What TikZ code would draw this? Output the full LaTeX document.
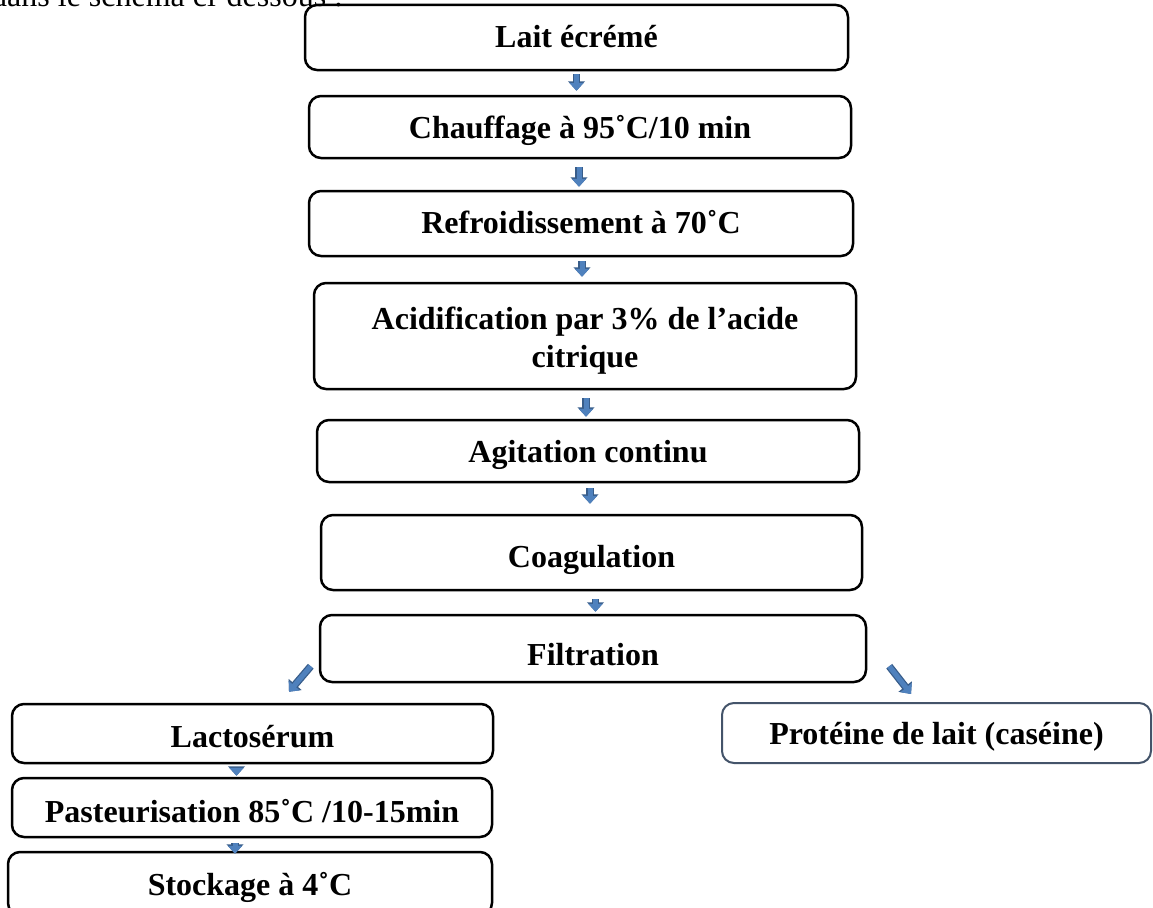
\documentclass[tikz,border=0pt]{standalone}
\usepackage{fontspec}
\setmainfont{Liberation Serif}
\usetikzlibrary{arrows.meta,calc}
\definecolor{arrfill}{HTML}{4F81BD}
\definecolor{arrline}{HTML}{385D8A}
\definecolor{slate}{HTML}{44546A}
\tikzset{
  box/.style={draw=black, line width=2.5pt, rounded corners=12pt, inner sep=0pt,
    font=\fontsize{32}{38}\selectfont\bfseries, align=center},
  tlift/.style={text height=#1, text depth=0pt},
  barrow/.style={draw=arrfill, line width=5pt,
    -{Triangle[length=8pt,width=14pt]},
    preaction={draw=arrline, line width=7.5pt, -{Triangle[length=9.5pt,width=16.5pt]}}},
}
\begin{document}
\begin{tikzpicture}[x=1pt,y=-1pt]
\useasboundingbox (0,0) rectangle (1153,907);
\clip (0,0) rectangle (1153,907);
\fill[white] (0,0) rectangle (1153,907);
\node[anchor=base west, font=\fontsize{32}{35}\selectfont, inner sep=0pt] (intro) at (-9,7) {dans le schéma ci-dessous :};

\node[box, tlift=21pt, minimum width=543pt, minimum height=65pt] (lait) at (576.5,37.5) {Lait écrémé};
\node[box, tlift=23pt, minimum width=542pt, minimum height=62pt] (chauf) at (580,127) {Chauffage à 95˚C/10 min};
\node[box, tlift=19pt, minimum width=544pt, minimum height=65pt] (refr) at (581,223.5) {Refroidissement à 70˚C};
\node[box, minimum width=542pt, minimum height=106pt] (acid) at (585,336) {\rule{0pt}{31pt}Acidification par 3\% de l’acide\\citrique};
\node[box, tlift=23pt, minimum width=542pt, minimum height=62pt] (agit) at (588,451) {Agitation continu};
\node[box, tlift=30pt, minimum width=541pt, minimum height=75pt] (coag) at (591.5,552.5) {Coagulation};
\node[box, tlift=34pt, minimum width=546pt, minimum height=67pt] (filt) at (593,648.5) {Filtration};
\node[box, tlift=28pt, minimum width=481pt, minimum height=59pt] (lacto) at (252.5,733.5) {Lactosérum};
\node[box, tlift=30pt, minimum width=480pt, minimum height=59pt] (past) at (252,807.5) {Pasteurisation 85˚C /10-15min};
\node[box, tlift=24pt, minimum width=484pt, minimum height=63pt] (stock) at (250,883.5) {Stockage à 4˚C};
\node[box, tlift=23pt, draw=slate, line width=2pt, minimum width=429pt, minimum height=60pt] (prot) at (936.5,733) {Protéine de lait (caséine)};

\draw[barrow, shorten <=3pt, shorten >=4pt] (lait.south) -- (lait.south |- chauf.north);
\draw[barrow, shorten <=8pt, shorten >=3pt] ([xshift=-1pt]chauf.south) -- ([xshift=-1pt]chauf.south |- refr.north);
\draw[barrow, shorten <=4pt, shorten >=5pt] ([xshift=1pt]refr.south) -- ([xshift=1pt]refr.south |- acid.north);
\draw[barrow, shorten <=8pt, shorten >=2pt] ([xshift=1pt]acid.south) -- ([xshift=1pt]acid.south |- agit.north);
\draw[barrow, shorten <=5pt, shorten >=10pt] ([xshift=2pt]agit.south) -- ([xshift=2pt]agit.south |- coag.north);
\draw[barrow, shorten <=8pt, shorten >=2pt] ([xshift=4pt]coag.south) -- ([xshift=4pt]coag.south |- filt.north);
\draw[barrow] ($(filt.south west)+(-8,-17)$) -- ($(lacto.north)+(36.5,-11)$);
\draw[barrow] ($(filt.south east)+(22,-17)$) -- ($(prot.north)+(-25.5,-8)$);
\draw[barrow, shorten <=6pt, shorten >=1pt] ([xshift=-16pt]lacto.south) -- ([xshift=-16pt]lacto.south |- past.north);
\draw[barrow, shorten <=5pt, shorten >=-3pt] ([xshift=-17pt]past.south) -- ([xshift=-17pt]past.south |- stock.north);
\end{tikzpicture}
\end{document}
